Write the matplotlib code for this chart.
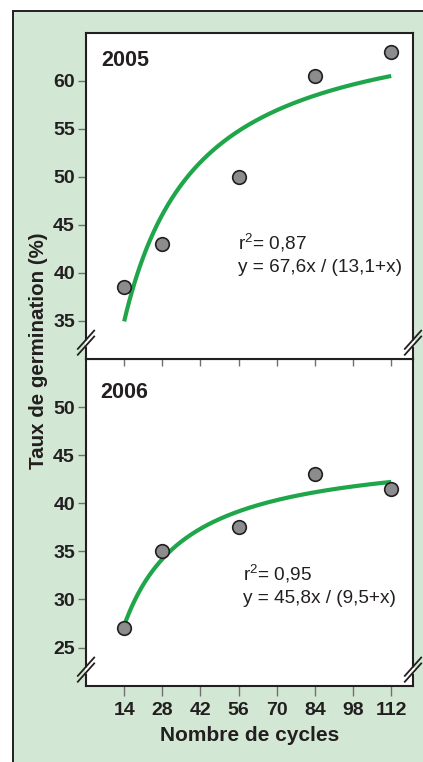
import numpy as np
import matplotlib
matplotlib.use("Agg")
import matplotlib.pyplot as plt
from matplotlib.patches import Rectangle

plt.rcParams['font.family'] = ['Liberation Sans', 'DejaVu Sans']
plt.rcParams['mathtext.fontset'] = 'custom'
plt.rcParams['mathtext.rm'] = 'Liberation Sans'
plt.rcParams['mathtext.default'] = 'regular'

# ---- data ----
cycles = [14, 28, 56, 84, 112]
germ_2005 = [38.5, 43.0, 50.0, 60.5, 63.0]
germ_2006 = [27.0, 35.0, 37.5, 43.0, 41.5]
fit_2005 = (67.6, 13.1)   # y = a x / (b + x)
fit_2006 = (45.8, 9.5)
r2_2005 = "0,87"
r2_2006 = "0,95"
eq_2005 = "y = 67,6x / (13,1+x)"
eq_2006 = "y = 45,8x / (9,5+x)"
xticks = [14, 28, 42, 56, 70, 84, 98, 112]
yticks_2005 = [35, 40, 45, 50, 55, 60]
yticks_2006 = [25, 30, 35, 40, 45, 50]
years = ["2005", "2006"]
xlabel = "Nombre de cycles"
ylabel = "Taux de germination (%)"

# ---- style ----
W, H = 423, 762
BG = '#d3e8d4'
DARK = '#231f20'
TICKC = '#707070'
GREEN = '#1fa64a'
MARK = '#8c8c8e'

fig = plt.figure(figsize=(W / 100, H / 100), dpi=100)
fig.patch.set_facecolor('white')
fig.patches.append(Rectangle((13 / W, -0.05), 1.2, (H - 11) / H + 0.05,
                             transform=fig.transFigure, facecolor=BG,
                             edgecolor=DARK, lw=1.4, zorder=0))

left = 86 / W
width = (413 - 86) / W
ax2 = fig.add_axes([left, 1 - 686 / H, width, (686 - 359) / H])
ax1 = fig.add_axes([left, 1 - 359 / H, width, (359 - 33) / H])
ax1.set_zorder(3)
ax2.set_zorder(2)

xs = np.linspace(14, 112, 300)

panels = [
    (ax1, germ_2005, fit_2005, r2_2005, eq_2005, yticks_2005, (31, 65), years[0],
     (0.048, 0.899), (0.466, 0.337), (0.466, 0.268)),
    (ax2, germ_2006, fit_2006, r2_2006, eq_2006, yticks_2006, (21, 55), years[1],
     (0.043, 0.880), (0.481, 0.322), (0.481, 0.255)),
]

for ax, ys, (a, b), r2, eq, yt, ylim, yr, ypos, r2pos, eqpos in panels:
    ax.set_facecolor('white')
    ax.plot(xs, a * xs / (b + xs), color=GREEN, lw=3.0, solid_capstyle='butt', zorder=3)
    ax.plot(cycles, ys, 'o', ms=9.8, mfc=MARK, mec=DARK, mew=1.2, zorder=4)
    ax.set_xlim(0, 120)
    ax.set_ylim(*ylim)
    ax.set_yticks(yt)
    ax.set_xticks(xticks)
    for s in ax.spines.values():
        s.set_color(DARK)
        s.set_linewidth(1.5)
    ax.tick_params(axis='y', direction='out', length=6, width=1.0, color=TICKC,
                   labelsize=14, labelcolor=DARK, pad=2)
    for lab in ax.get_yticklabels():
        lab.set_fontweight('bold')
    ax.text(*ypos, yr, transform=ax.transAxes, fontsize=15.5, fontweight='bold',
            color=DARK, ha='left', va='baseline')
    ax.text(*r2pos, "r$^{2}$= " + r2, transform=ax.transAxes, fontsize=13.7,
            color=DARK, ha='left', va='baseline')
    ax.text(*eqpos, eq, transform=ax.transAxes, fontsize=13.7,
            color=DARK, ha='left', va='baseline')

    # axis break marks on left and right spines
    yc = 0.05
    for xe in (0.0, 1.0):
        ax.plot([xe, xe], [yc - 0.009, yc + 0.009], color='white', lw=2.2,
                transform=ax.transAxes, clip_on=False, zorder=5,
                solid_capstyle='butt')
        for off in (-0.009, 0.009):
            ax.plot([xe - 0.025, xe + 0.025], [yc + off - 0.028, yc + off + 0.028],
                    color=DARK, lw=1.3, transform=ax.transAxes, clip_on=False,
                    zorder=6)

# top panel: ticks at its bottom pointing down into lower panel, no labels
ax1.tick_params(axis='x', direction='out', length=5, width=1.0, color=TICKC,
                bottom=True, labelbottom=False)
# bottom panel
ax2.tick_params(axis='x', direction='out', length=7.5, width=1.0, color=TICKC,
                labelsize=14, labelcolor=DARK, pad=4)
for lab in ax2.get_xticklabels():
    lab.set_fontweight('bold')

ax2.set_xlabel(xlabel, fontsize=15, fontweight='bold', color=DARK, labelpad=5)
fig.text(38.5 / W, 1 - 351 / H, ylabel, rotation=90, fontsize=14.8,
         fontweight='bold', color=DARK, ha='center', va='center')

fig.savefig('out.png', dpi=100)
